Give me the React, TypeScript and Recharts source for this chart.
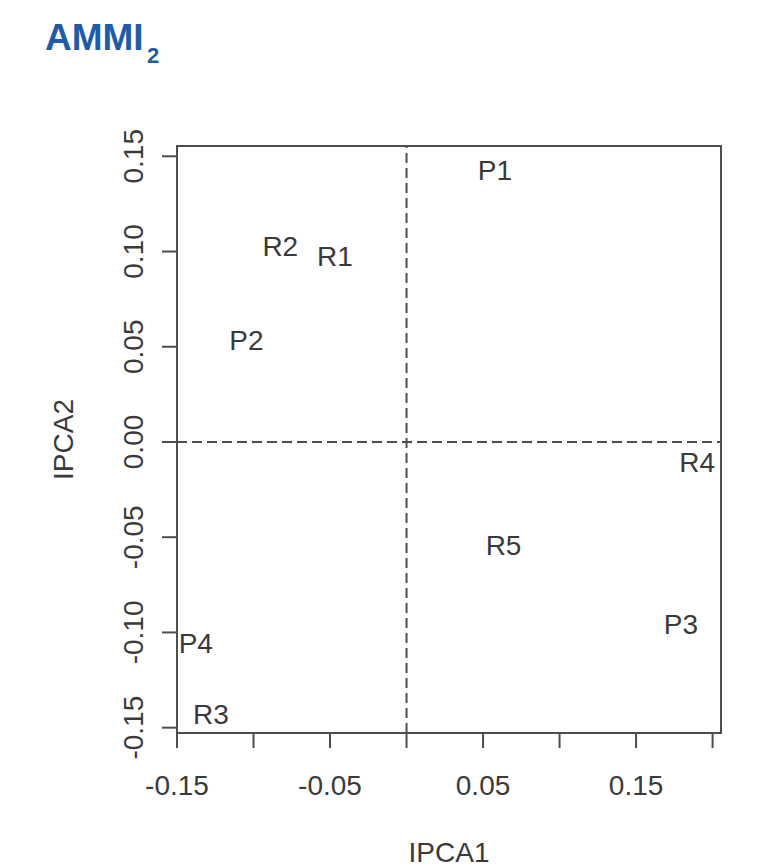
import React from 'react';
import { ScatterChart, Scatter, XAxis, YAxis, ReferenceLine, ReferenceArea, Label } from 'recharts';

// AMMI2 biplot: genotype/environment labels on IPCA1 x IPCA2
const names = ['P1', 'R2', 'R1', 'P2', 'R4', 'R5', 'P3', 'P4', 'R3'];
const ipca1 = [0.0578, -0.0825, -0.0468, -0.1046, 0.1899, 0.0634, 0.1793, -0.1377, -0.1279];
const ipca2 = [0.1429, 0.1027, 0.0978, 0.0536, -0.0103, -0.0543, -0.0953, -0.1053, -0.1429];

const xTicks = [-0.15, -0.1, -0.05, 0, 0.05, 0.1, 0.15, 0.2];
const xTickLabels = ['-0.15', '', '-0.05', '', '0.05', '', '0.15', ''];
const yTicks = [-0.15, -0.1, -0.05, 0, 0.05, 0.1, 0.15];
const yTickLabels = ['-0.15', '-0.10', '-0.05', '0.00', '0.05', '0.10', '0.15'];

const xDomain = [-0.15, 0.2055];
const yDomain = [-0.1528, 0.1554];

const FONT = '"Liberation Sans", Arial, sans-serif';
const TEXT = '#3a3a3a';
const LINE = '#4d4d4d';

const data = names.map((name, i) => ({ name, x: ipca1[i], y: ipca2[i] }));

const XTick = (props: any) => {
  const { x, y, index } = props;
  const label = xTickLabels[index];
  if (!label) return null;
  return (
    <text x={x} y={y} dy="0.36em" textAnchor="middle" fontSize={28} fontFamily={FONT} fill={TEXT}>
      {label}
    </text>
  );
};

const YTick = (props: any) => {
  const { x, y, index } = props;
  return (
    <text
      x={x}
      y={y}
      dy="0.36em"
      textAnchor="middle"
      transform={`rotate(-90, ${x}, ${y})`}
      fontSize={28}
      fontFamily={FONT}
      fill={TEXT}
    >
      {yTickLabels[index]}
    </text>
  );
};

const PointLabel = (props: any) => {
  const { cx, cy, payload } = props;
  return (
    <text x={cx} y={cy} dy="0.36em" textAnchor="middle" fontSize={28} fontFamily={FONT} fill={TEXT}>
      {payload.name}
    </text>
  );
};

const App: React.FC = () => {
  return (
    <div style={{ position: 'absolute', left: 0, top: 0, width: 761, height: 868, background: '#fff' }}>
      <svg width={761} height={90} style={{ position: 'absolute', left: 0, top: 0 }}>
        <text x={45} y={50} fontSize={37} fontWeight="bold" fontFamily={FONT} fill="#1f5ca8">
          AMMI
        </text>
        <text x={147} y={63} fontSize={22} fontWeight="bold" fontFamily={FONT} fill="#1f5ca8">
          2
        </text>
      </svg>
      <ScatterChart width={761} height={868} margin={{ top: 146, right: 40, bottom: 15, left: 20 }}>
        <XAxis
          type="number"
          dataKey="x"
          domain={xDomain}
          allowDataOverflow
          ticks={xTicks}
          interval={0}
          height={120}
          tickSize={15}
          tickMargin={37}
          tick={<XTick />}
          axisLine={{ stroke: LINE, strokeWidth: 2 }}
          tickLine={{ stroke: LINE, strokeWidth: 2 }}
        >
          <Label
            content={(p: any) => {
              const vb = p.viewBox || { x: 177, y: 733, width: 544, height: 120 };
              return (
                <text
                  x={vb.x + vb.width / 2}
                  y={vb.y + 119}
                  dy="0.36em"
                  textAnchor="middle"
                  fontSize={28}
                  fontFamily={FONT}
                  fill={TEXT}
                >
                  IPCA1
                </text>
              );
            }}
          />
        </XAxis>
        <YAxis
          type="number"
          dataKey="y"
          domain={yDomain}
          allowDataOverflow
          ticks={yTicks}
          interval={0}
          width={157}
          tickSize={15}
          tickMargin={29}
          tick={<YTick />}
          axisLine={{ stroke: LINE, strokeWidth: 2 }}
          tickLine={{ stroke: LINE, strokeWidth: 2 }}
        >
          <Label
            content={(p: any) => {
              const vb = p.viewBox || { x: 20, y: 146, width: 157, height: 587 };
              const cx = vb.x + 43;
              const cy = vb.y + vb.height / 2;
              return (
                <text
                  x={cx}
                  y={cy}
                  dy="0.36em"
                  textAnchor="middle"
                  transform={`rotate(-90, ${cx}, ${cy})`}
                  fontSize={28}
                  fontFamily={FONT}
                  fill={TEXT}
                >
                  IPCA2
                </text>
              );
            }}
          />
        </YAxis>
        <ReferenceArea
          x1={xDomain[0]}
          x2={xDomain[1]}
          y1={yDomain[0]}
          y2={yDomain[1]}
          fill="none"
          fillOpacity={0}
          stroke={LINE}
          strokeWidth={2}
        />
        <ReferenceLine x={0} stroke={LINE} strokeWidth={2} strokeDasharray="10 5" />
        <ReferenceLine y={0} stroke={LINE} strokeWidth={2} strokeDasharray="10 5" />
        <Scatter data={data} shape={<PointLabel />} isAnimationActive={false} />
      </ScatterChart>
    </div>
  );
};

export default App;
